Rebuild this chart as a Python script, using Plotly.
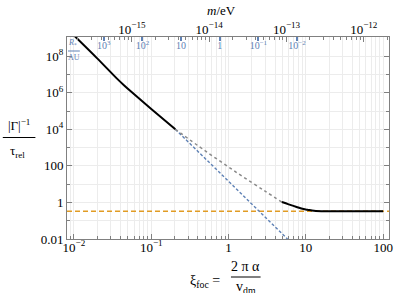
import plotly.graph_objects as go

# ---------------- data ----------------
xi_upper = [0.0102, 0.02, 0.0355, 0.0447, 0.0543, 0.1, 0.205]
g_upper = [1.26e9, 7.6e7, 6.3e6, 2.5e6, 1.2e6, 1.29e5, 1e4]

xi_dotted = [0.205, 0.5, 1.3, 3.0, 4.9]
g_dotted = [1e4, 660, 41, 4.0, 1.05]

xi_lower = [4.9, 6.0, 7.6, 9.0, 10.5, 12.0, 13.5, 16.0, 30.0, 100.0]
g_lower = [1.05, 0.78, 0.56, 0.45, 0.40, 0.36, 0.34, 0.332, 0.33, 0.33]

xi_asym = [0.205, 5.8]
g_asym = [1e4, 0.01]

g_level = 0.33

x_ticks = [1e-2, 1e-1, 1, 10, 100]
x_ticktext = ["10<sup>−2</sup>", "10<sup>−1</sup>", "1", "10", "100"]
y_ticks = [1e-2, 1, 1e2, 1e4, 1e6, 1e8]
y_ticktext = ["0.01", "1", "100", "10<sup>4</sup>", "10<sup>6</sup>", "10<sup>8</sup>"]
y_minor = [1e-1, 10, 1e3, 1e5, 1e7, 1e9]
m_ticks = [1e-15, 1e-14, 1e-13, 1e-12]
m_ticktext = ["10<sup>−15</sup>", "10<sup>−14</sup>", "10<sup>−13</sup>", "10<sup>−12</sup>"]
r_ticks = [1e3, 1e2, 10, 1, 1e-1, 1e-2]
r_ticktext = ["10<sup>3</sup>", "10<sup>2</sup>", "10", "1", "10<sup>−1</sup>", "10<sup>−2</sup>"]

# axis ranges (log10)
x_range = [-2.09, 2.076]
m_offset = -13.75          # log10(m/eV) = log10(xi) + offset
r_scale, r_offset = -2.0, -0.227   # log10(R/AU) = -2 log10(xi) - 0.227
y_range = [-2.0, 9.05]

def minor_vals(lo, hi):
    vals = []
    for e in range(lo, hi):
        for k in range(2, 10):
            vals.append(k * 10.0 ** e)
    return vals

BLACK = "#000000"
BLUE = "rgb(94,129,181)"
ORANGE = "rgb(225,156,36)"
GRAY = "#8a8a8a"
FRAME = "#808080"
GRID = "#ececec"
FONT = "Liberation Serif"

fig = go.Figure()

fig.add_trace(go.Scatter(x=[10 ** x_range[0], 10 ** x_range[1]], y=[g_level, g_level],
                         mode="lines", line=dict(color=ORANGE, width=1.3, dash="5px,3px"),
                         showlegend=False, hoverinfo="skip"))
fig.add_trace(go.Scatter(x=xi_asym, y=g_asym, mode="lines",
                         line=dict(color=BLUE, width=1.4, dash="3px,2px"),
                         showlegend=False, hoverinfo="skip"))
fig.add_trace(go.Scatter(x=xi_dotted, y=g_dotted, mode="lines", line_shape="spline",
                         line=dict(color=GRAY, width=1.5, dash="dot"),
                         showlegend=False, hoverinfo="skip"))
fig.add_trace(go.Scatter(x=xi_upper, y=g_upper, mode="lines", line_shape="spline",
                         line=dict(color=BLACK, width=2, smoothing=0.8),
                         showlegend=False, hoverinfo="skip"))
fig.add_trace(go.Scatter(x=xi_lower, y=g_lower, mode="lines", line_shape="spline",
                         line=dict(color=BLACK, width=2),
                         showlegend=False, hoverinfo="skip"))
# invisible traces to activate top axes
fig.add_trace(go.Scatter(x=m_ticks, y=[1] * len(m_ticks), xaxis="x2", mode="markers",
                         marker=dict(opacity=0), showlegend=False, hoverinfo="skip"))
fig.add_trace(go.Scatter(x=r_ticks, y=[1] * len(r_ticks), xaxis="x3", mode="markers",
                         marker=dict(opacity=0), showlegend=False, hoverinfo="skip"))

fig.update_layout(
    width=399, height=293,
    margin=dict(l=67, r=6, t=37, b=54),
    paper_bgcolor="white", plot_bgcolor="white",
    font=dict(family=FONT, size=12, color="black"),
    xaxis=dict(type="log", range=x_range, tickvals=x_ticks, ticktext=x_ticktext,
               ticks="inside", ticklen=5, tickcolor=FRAME, showline=True, linecolor=FRAME,
               linewidth=1, mirror=False, showgrid=True, gridcolor=GRID, zeroline=False,
               minor=dict(tickvals=minor_vals(-3, 3), ticks="inside", ticklen=3,
                          tickcolor=FRAME, showgrid=True, gridcolor=GRID),
               tickfont=dict(size=13), ticklabelstandoff=-4),
    xaxis2=dict(type="log", overlaying="x", side="top", anchor="y",
                range=[x_range[0] + m_offset, x_range[1] + m_offset],
                tickvals=m_ticks, ticktext=m_ticktext, ticks="inside", ticklen=5,
                tickcolor=FRAME, showline=True, linecolor=FRAME, linewidth=1,
                showgrid=False, zeroline=False,
                minor=dict(tickvals=minor_vals(-16, -11), ticks="inside", ticklen=3,
                           tickcolor=FRAME, showgrid=False),
                tickfont=dict(size=13), ticklabelstandoff=-3),
    xaxis3=dict(type="log", overlaying="x", side="top", anchor="y",
                range=[r_scale * x_range[0] + r_offset, r_scale * x_range[1] + r_offset],
                tickvals=r_ticks, ticktext=r_ticktext, ticks="inside", ticklen=4,
                tickcolor=BLUE, tickwidth=1.5, ticklabelposition="inside", showline=False,
                showgrid=False, zeroline=False, tickfont=dict(size=10, color=BLUE)),
    yaxis=dict(type="log", range=y_range, tickvals=y_ticks, ticktext=y_ticktext,
               ticks="inside", ticklen=5, tickcolor=FRAME, showline=True, linecolor=FRAME,
               linewidth=1, mirror="ticks", showgrid=True, gridcolor=GRID, zeroline=False,
               minor=dict(tickvals=y_minor, ticks="inside", ticklen=3, tickcolor=FRAME,
                          showgrid=True, gridcolor=GRID),
               tickfont=dict(size=13)),
)

PW, PH, L, T, B = 326.0, 202.0, 67.0, 37.0, 239.0
def px(xp):
    return (xp - L) / PW
def py(yp):
    return (B - yp) / PH

anns = [
    ("|Γ|<sup>−1</sup>", 18, 125, 13, "black"),
    ("τ<sub>rel</sub>", 17, 151, 13, "black"),
    ("ξ<sub>foc</sub> =", 207, 281, 14, "black"),
    ("2 π α", 248, 266, 14, "black"),
    ("v<sub>dm</sub>", 248, 287, 14, "black"),
    ("<i>m</i>/eV", 223, 10, 13, "black"),
    ("<i>R</i><sub>*</sub>", 73, 43, 8, BLUE),
    ("AU", 74, 57, 8, BLUE),
]
for text, xx, yy, sz, col in anns:
    fig.add_annotation(text=text, x=px(xx), y=py(yy), xref="paper", yref="paper",
                       showarrow=False, xanchor="center", yanchor="middle",
                       font=dict(family=FONT, size=sz, color=col))

bars = [(2, 35, 137.5, "black"), (233, 263, 277, "black"), (68, 80, 51, BLUE)]
for x0, x1, yy, col in bars:
    fig.add_shape(type="line", xref="paper", yref="paper", x0=px(x0), x1=px(x1),
                  y0=py(yy), y1=py(yy), line=dict(color=col, width=1))

fig.write_html("out.html", config={"displayModeBar": False},
               post_script="document.body.style.margin='0';")
